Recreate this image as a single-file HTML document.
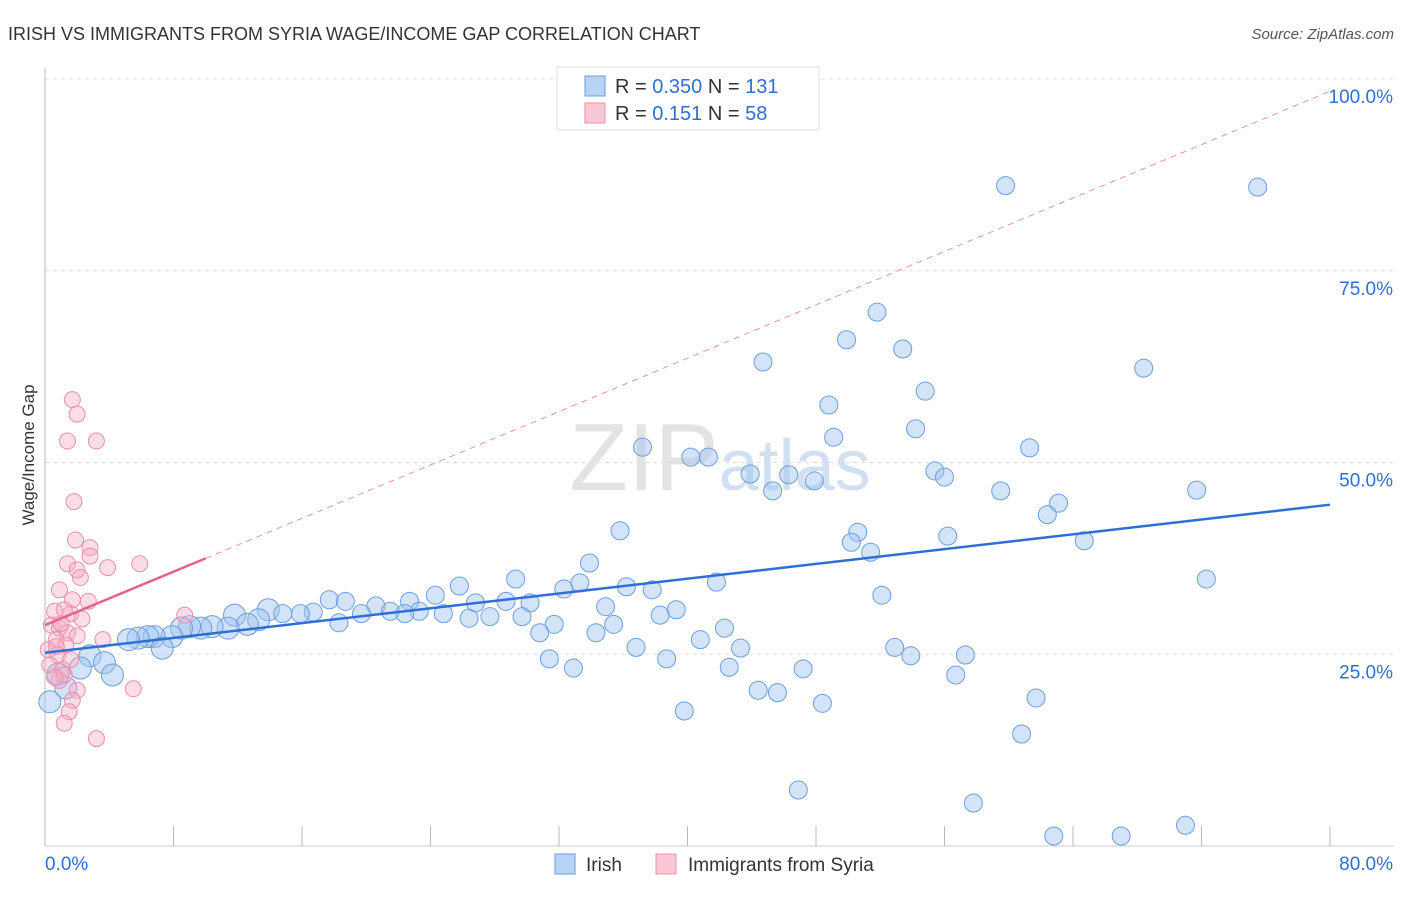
<!DOCTYPE html>
<html><head><meta charset="utf-8"><style>
body{margin:0;background:#fff;font-family:"Liberation Sans",sans-serif;}
svg text{font-family:"Liberation Sans",sans-serif;}
</style></head><body>
<svg id="chart" width="1406" height="892" viewBox="0 0 1406 892">
<text x="8" y="40" font-size="18" fill="#333">IRISH VS IMMIGRANTS FROM SYRIA WAGE/INCOME GAP CORRELATION CHART</text>
<text x="1394" y="39" font-size="15" fill="#555" text-anchor="end" font-style="italic">Source: ZipAtlas.com</text>
<text x="720" y="490" font-size="96" fill="#ddd" text-anchor="middle" font-family="Liberation Serif" opacity="0.8">ZIP<tspan fill="#c5d8ef" font-family="Liberation Sans" font-size="72">atlas</tspan></text>
<g id="grid"></g>
<g id="axes"></g>
<g id="pts"></g>
<g id="trends"></g>
<text transform="translate(34,455) rotate(-90)" font-size="17" fill="#333" text-anchor="middle">Wage/Income Gap</text>
<g>
<rect x="557" y="67" width="262" height="63" fill="#fff" stroke="#ddd"/>
<rect x="585" y="76" width="20" height="20" fill="#b9d3f5" stroke="#6a9ee0"/>
<rect x="585" y="103" width="20" height="20" fill="#f9c8d6" stroke="#ec8eaa"/>
<text x="615" y="93" font-size="20" fill="#333">R = <tspan fill="#2e6fd6">0.350</tspan>   N = <tspan fill="#2e6fd6">131</tspan></text>
<text x="615" y="120" font-size="20" fill="#333">R =   <tspan fill="#2e6fd6">0.151</tspan>   N =  <tspan fill="#2e6fd6">58</tspan></text>
</g>
<g>
<rect x="555" y="854" width="20" height="20" fill="#b9d3f5" stroke="#6a9ee0"/>
<text x="586" y="871" font-size="19" fill="#333">Irish</text>
<rect x="656" y="854" width="20" height="20" fill="#f9c8d6" stroke="#ec8eaa"/>
<text x="688" y="871" font-size="19" fill="#333">Immigrants from Syria</text>
</g>
</svg>
<script>
const xTicks=[0,8,16,24,32,40,48,56,64,72,80];
const yTicks=[25,50,75,100];
const yTickLabels=["25.0%","50.0%","75.0%","100.0%"];
const xEndLabels=["0.0%","80.0%"];
const irishX=[59.8,75.5,51.8,49.9,53.4,44.7,68.4,54.8,48.8,54.2,49.1,37.2,61.3,40.2,41.3,55.4,43.9,46.3,47.9,56.0,45.3,59.5,71.7,63.1,62.4,35.8,50.6,56.2,50.2,64.7,51.4,33.9,72.3,29.3,25.8,33.3,41.8,36.2,32.3,37.8,24.3,52.1,17.7,18.7,22.7,28.7,26.8,20.6,34.9,39.3,38.3,30.2,16.7,13.9,14.8,15.9,21.5,23.3,19.7,22.4,24.8,26.4,27.7,29.7,31.7,35.4,30.8,34.3,42.3,40.8,43.3,36.8,18.3,11.8,13.3,12.6,11.4,10.4,9.7,9.0,8.5,7.9,6.8,6.4,5.8,5.2,7.3,2.8,3.7,2.2,4.2,0.8,1.3,0.3,31.4,32.9,38.7,42.6,52.9,53.9,57.3,47.2,56.7,44.4,45.6,48.4,39.8,61.7,60.8,46.9,57.8,62.8,67.0,71.0];
const irishY=[86.1,85.9,69.6,66.0,64.8,63.1,62.3,59.3,57.5,54.4,53.3,52.0,51.9,50.7,50.7,48.9,48.5,48.4,47.6,48.1,46.3,46.3,46.4,44.7,43.2,41.1,40.9,40.4,39.6,39.8,38.3,36.9,34.8,34.8,33.9,34.3,34.4,33.8,33.5,33.4,32.7,32.7,32.1,31.9,31.9,31.9,31.7,31.3,31.2,30.8,30.1,31.7,30.5,30.8,30.3,30.3,30.6,30.6,30.3,30.3,30.3,29.7,29.9,29.9,28.9,28.9,27.8,27.8,28.4,26.9,25.8,25.9,29.1,30.1,29.5,28.9,28.4,28.6,28.4,28.6,28.4,27.3,27.3,27.3,27.1,26.9,25.8,24.8,23.9,23.2,22.3,22.4,20.6,18.8,24.4,23.2,24.4,23.3,25.9,24.8,24.9,23.1,22.3,20.3,20.0,18.6,17.6,19.3,14.6,7.3,5.6,1.3,1.3,2.7];
const syriaX=[1.7,2.0,1.4,3.2,1.8,1.9,2.8,2.8,1.4,2.0,2.2,3.9,5.9,0.9,1.7,2.7,0.6,1.6,2.3,8.7,0.4,0.9,1.4,2.0,0.7,1.3,3.6,0.2,0.8,1.6,0.3,1.1,0.9,1.2,2.0,5.5,1.7,1.5,1.2,3.2,0.6,0.7,1.0,1.2];
const syriaY=[58.2,56.3,52.8,52.8,44.9,39.9,38.9,37.8,36.8,36.0,35.0,36.3,36.8,33.4,32.1,31.9,30.6,30.3,29.6,30.1,28.8,28.4,27.8,27.4,26.9,26.2,26.9,25.6,24.9,24.3,23.6,23.0,21.6,22.3,20.3,20.5,19.0,17.5,16.0,14.0,22.0,26.0,29.0,30.8];
const irishTrend=[25.2,44.5];
const syriaTrend=[28.8,0.87];
const SX=v=>45+v/80*1285, SY=v=>846-v/100*767;
const NS="http://www.w3.org/2000/svg";
function mk(tag,attrs,parent){const e=document.createElementNS(NS,tag);for(const k in attrs)e.setAttribute(k,attrs[k]);parent.appendChild(e);return e;}
const grid=document.getElementById('grid'),axes=document.getElementById('axes'),pts=document.getElementById('pts'),tr=document.getElementById('trends');
yTicks.forEach((t,i)=>{
 const l=mk('line',{x1:45,x2:1394,y1:SY(t),y2:SY(t),stroke:'#ddd','stroke-dasharray':'4,4'},grid);
 
 
 const tx=mk('text',{x:1393,y:SY(t)+24,'font-size':19,fill:'#2e6fd6','text-anchor':'end'},axes);
 tx.textContent=yTickLabels[i];
 
 
});
const ax=mk('line',{x1:45,x2:45,y1:68,y2:846,stroke:'#bbb'},axes);


const bx=mk('line',{x1:45,x2:1394,y1:846,y2:846,stroke:'#ccc'},axes);


xTicks.forEach(t=>{
 const l=mk('line',{x1:SX(t),x2:SX(t),y1:826,y2:846,stroke:'#bbb'},axes);
 
 
});
const xl0=mk('text',{x:45,y:870,'font-size':19,fill:'#2e6fd6'},axes);xl0.textContent=xEndLabels[0];


const xl1=mk('text',{x:1393,y:870,'font-size':19,fill:'#2e6fd6','text-anchor':'end'},axes);xl1.textContent=xEndLabels[1];


irishX.forEach((x,i)=>{
 const big=x<14&&irishY[i]<32;
 const c=mk('circle',{cx:SX(x),cy:SY(irishY[i]),r:big?11:9,fill:'rgba(160,195,240,0.45)',stroke:'#6a9ee0','stroke-width':1},pts);
 
 
});
syriaX.forEach((x,i)=>{
 const c=mk('circle',{cx:SX(x),cy:SY(syriaY[i]),r:8,fill:'rgba(245,170,195,0.4)',stroke:'#ec8eaa','stroke-width':1},pts);
 
 
});
const sd=mk('line',{x1:SX(10),y1:SY(syriaTrend[0]+syriaTrend[1]*10),x2:SX(80),y2:SY(syriaTrend[0]+syriaTrend[1]*80),stroke:'#ec8eaa','stroke-dasharray':'6,5','stroke-width':1},tr);


const ss=mk('line',{x1:SX(0),y1:SY(syriaTrend[0]),x2:SX(10),y2:SY(syriaTrend[0]+syriaTrend[1]*10),stroke:'#e8618c','stroke-width':2.5},tr);


const it=mk('line',{x1:SX(0),y1:SY(irishTrend[0]),x2:SX(80),y2:SY(irishTrend[1]),stroke:'#2e6fd6','stroke-width':2.5},tr);


</script>
</body></html>
